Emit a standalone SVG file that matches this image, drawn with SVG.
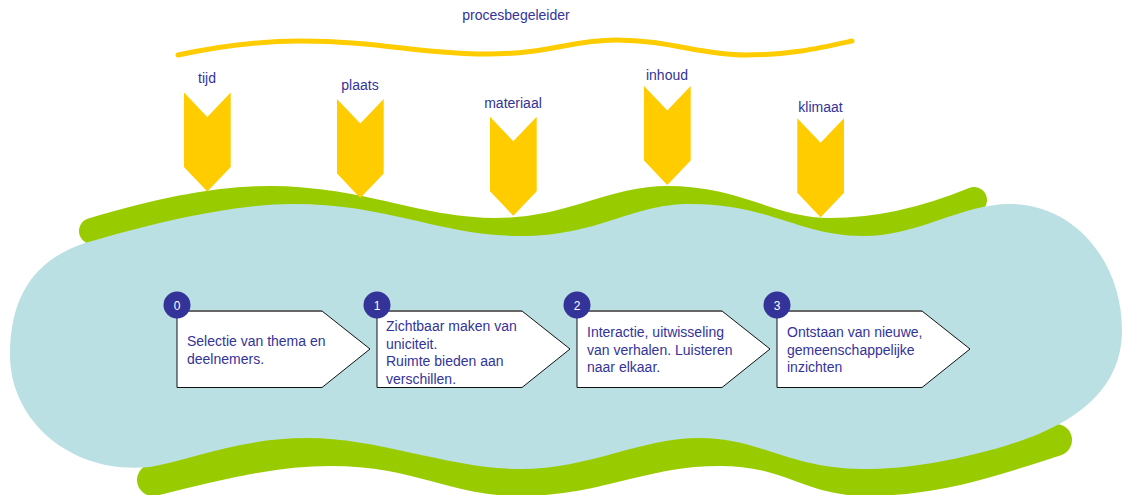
<svg xmlns="http://www.w3.org/2000/svg" width="1122" height="495" viewBox="0 0 1122 495">
  <style>
    .lbl { font-family: "Liberation Sans", Arial, sans-serif; font-size: 14px; fill: #333399; }
    .mid { text-anchor: middle; }
    .num { font-family: "Liberation Sans", Arial, sans-serif; font-size: 12px; fill: #ffffff; text-anchor: middle; }
    .band { fill: none; stroke: #99CC00; stroke-linecap: round; stroke-linejoin: round; }
    .arrow { fill: #FFCC00; }
    .box { fill: #ffffff; stroke: #111111; stroke-width: 1; }
    .boxtop { stroke: #666666; stroke-width: 2; }
    .badge { fill: #333399; }
  </style>
  <defs>
    <polygon id="chev" points="0,0 23.3,24.5 46.7,0 46.7,74.5 23.3,99 0,74.5"/>
    <polygon id="step" points="0,0 145,0 193,38 145,76.5 0,76.5"/>
  </defs>
  <rect width="1122" height="495" fill="#ffffff"/>

  <g id="procesbegeleider">
    <text class="lbl mid" x="516" y="20">procesbegeleider</text>
    <path d="M 178,55 C 220,46 260,41 300,41 C 380,41 420,54 487,54 C 550,54 570,40 616,40 C 670,40 700,55 745,55 C 790,55 820,48 852,41" fill="none" stroke="#FFCC00" stroke-width="5" stroke-linecap="round"/>
  </g>

  <g id="background">
    <path class="band" stroke-width="26" d="M 92,231 C 150,214 210,199 270,199 C 360,199 420,231 495,231 C 570,231 610,199 667,199 C 740,199 770,231 830,231 C 890,231 940,214 974,200"/>
    <path class="band" stroke-width="32" d="M 153,480 C 210,466 270,450 330,450 C 420,450 450,480 520,480 C 600,480 640,450 720,450 C 790,450 810,480 865,480 C 940,480 1000,458 1056,440"/>
    <path fill="#BBE0E3" d="M 85,243 C 150,224 230,204 293,204 C 390,204 440,236 520,236 C 600,236 630,204 690,204 C 770,204 800,236 863,236 C 920,236 960,204 1010,204 C 1075,204 1122,262 1122,330 C 1122,390 1075,425 1005,446 C 950,462 905,469 863,469 C 790,469 760,438 700,438 C 640,438 590,469 520,469 C 450,469 380,438 307,438 C 240,438 190,460 150,467 C 70,475 10,420 10,355 C 10,290 40,258 85,243 Z"/>
  </g>

  <g id="tijd">
    <use href="#chev" class="arrow" x="184" y="92.5"/>
    <text class="lbl mid" x="207" y="83">tijd</text>
  </g>
  <g id="plaats">
    <use href="#chev" class="arrow" x="337" y="99"/>
    <text class="lbl mid" x="360" y="90">plaats</text>
  </g>
  <g id="materiaal">
    <use href="#chev" class="arrow" x="490" y="116.7"/>
    <text class="lbl mid" x="513" y="108">materiaal</text>
  </g>
  <g id="inhoud">
    <use href="#chev" class="arrow" x="644" y="86"/>
    <text class="lbl mid" x="667" y="80">inhoud</text>
  </g>
  <g id="klimaat">
    <use href="#chev" class="arrow" x="797.3" y="118.3"/>
    <text class="lbl mid" x="820.5" y="112">klimaat</text>
  </g>

  <g id="step0">
    <use href="#step" class="box" x="177" y="311"/>
    <line class="boxtop" x1="177" y1="311" x2="322" y2="311"/>
    <circle class="badge" cx="177" cy="305" r="13.5"/>
    <text class="num" x="177" y="309.5">0</text>
    <text class="lbl" x="187" y="346">Selectie van thema en</text>
    <text class="lbl" x="187" y="363.5">deelnemers.</text>
  </g>
  <g id="step1">
    <use href="#step" class="box" x="377" y="311"/>
    <line class="boxtop" x1="377" y1="311" x2="522" y2="311"/>
    <circle class="badge" cx="377" cy="305" r="13.5"/>
    <text class="num" x="377" y="309.5">1</text>
    <text class="lbl" x="386" y="331">Zichtbaar maken van</text>
    <text class="lbl" x="386" y="348.5">uniciteit.</text>
    <text class="lbl" x="386" y="366">Ruimte bieden aan</text>
    <text class="lbl" x="386" y="383.5">verschillen.</text>
  </g>
  <g id="step2">
    <use href="#step" class="box" x="577" y="311"/>
    <line class="boxtop" x1="577" y1="311" x2="722" y2="311"/>
    <circle class="badge" cx="577" cy="305" r="13.5"/>
    <text class="num" x="577" y="309.5">2</text>
    <text class="lbl" x="587" y="337">Interactie, uitwisseling</text>
    <text class="lbl" x="587" y="354.5">van verhalen. Luisteren</text>
    <text class="lbl" x="587" y="372">naar elkaar.</text>
  </g>
  <g id="step3">
    <use href="#step" class="box" x="777" y="311"/>
    <line class="boxtop" x1="777" y1="311" x2="922" y2="311"/>
    <circle class="badge" cx="777" cy="305" r="13.5"/>
    <text class="num" x="777" y="309.5">3</text>
    <text class="lbl" x="787" y="337">Ontstaan van nieuwe,</text>
    <text class="lbl" x="787" y="354.5">gemeenschappelijke</text>
    <text class="lbl" x="787" y="372">inzichten</text>
  </g>
</svg>
